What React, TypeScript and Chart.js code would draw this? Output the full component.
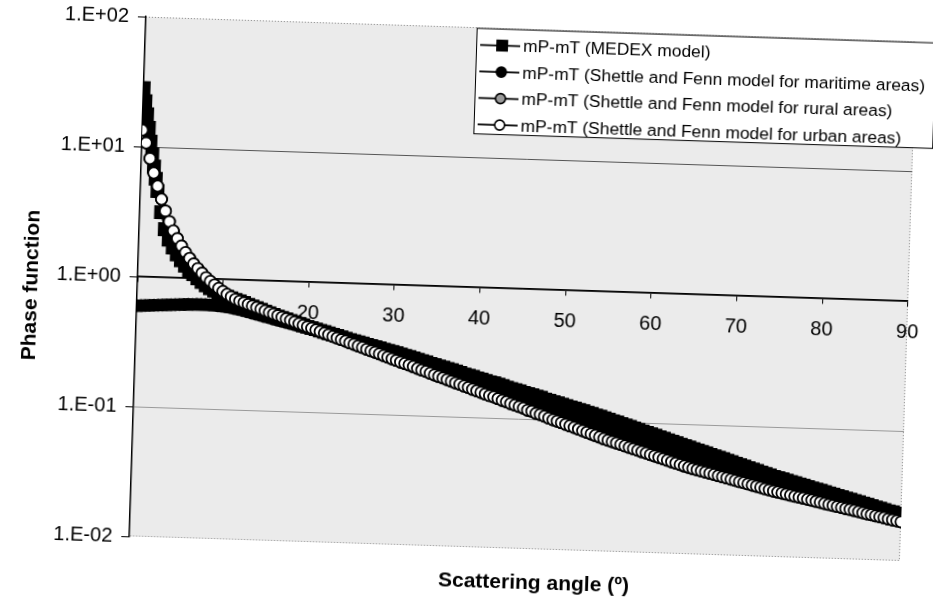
import React, { useEffect, useRef } from "react";
import { Chart, registerables } from "chart.js";

Chart.register(...registerables);

// Scattering angle (degrees)
const ANGLES = [
  0, 0.5, 1, 1.5, 2, 2.5, 3, 3.5, 4, 4.5,
  5, 5.5, 6, 6.5, 7, 7.5, 8, 8.5, 9, 9.5,
  10, 10.5, 11, 11.5, 12, 12.5, 13, 13.5, 14, 14.5,
  15, 15.5, 16, 16.5, 17, 17.5, 18, 18.5, 19, 19.5,
  20, 20.5, 21, 21.5, 22, 22.5, 23, 23.5, 24, 24.5,
  25, 25.5, 26, 26.5, 27, 27.5, 28, 28.5, 29, 29.5,
  30, 30.5, 31, 31.5, 32, 32.5, 33, 33.5, 34, 34.5,
  35, 35.5, 36, 36.5, 37, 37.5, 38, 38.5, 39, 39.5,
  40, 40.5, 41, 41.5, 42, 42.5, 43, 43.5, 44, 44.5,
  45, 45.5, 46, 46.5, 47, 47.5, 48, 48.5, 49, 49.5,
  50, 50.5, 51, 51.5, 52, 52.5, 53, 53.5, 54, 54.5,
  55, 55.5, 56, 56.5, 57, 57.5, 58, 58.5, 59, 59.5,
  60, 60.5, 61, 61.5, 62, 62.5, 63, 63.5, 64, 64.5,
  65, 65.5, 66, 66.5, 67, 67.5, 68, 68.5, 69, 69.5,
  70, 70.5, 71, 71.5, 72, 72.5, 73, 73.5, 74, 74.5,
  75, 75.5, 76, 76.5, 77, 77.5, 78, 78.5, 79, 79.5,
  80, 80.5, 81, 81.5, 82, 82.5, 83, 83.5, 84, 84.5,
  85, 85.5, 86, 86.5, 87, 87.5, 88, 88.5, 89, 89.5,
  90,
];

// mP-mT (MEDEX model)
const MEDEX = [
  28.2, 17.8, 11.0, 7.08, 4.57, 3.16, 2.34, 1.95, 1.70, 1.51,
  1.36, 1.24, 1.15, 1.07, 1.00, 0.940, 0.887, 0.845, 0.811, 0.782,
  0.759, 0.738, 0.719, 0.701, 0.684, 0.665, 0.647, 0.630, 0.612, 0.596,
  0.579, 0.564, 0.548, 0.535, 0.522, 0.510, 0.498, 0.486, 0.474, 0.463,
  0.452, 0.443, 0.434, 0.425, 0.416, 0.407, 0.399, 0.391, 0.383, 0.375,
  0.367, 0.360, 0.354, 0.348, 0.340, 0.334, 0.328, 0.322, 0.316, 0.310,
  0.305, 0.299, 0.292, 0.286, 0.281, 0.275, 0.269, 0.263, 0.258, 0.252,
  0.247, 0.242, 0.237, 0.232, 0.228, 0.223, 0.218, 0.213, 0.209, 0.205,
  0.200, 0.196, 0.192, 0.188, 0.185, 0.181, 0.177, 0.173, 0.169, 0.166,
  0.163, 0.159, 0.156, 0.153, 0.150, 0.147, 0.143, 0.140, 0.137, 0.135,
  0.132, 0.129, 0.126, 0.124, 0.121, 0.119, 0.116, 0.114, 0.111, 0.109,
  0.106, 0.104, 0.101, 0.0991, 0.0968, 0.0944, 0.0923, 0.0902, 0.0881, 0.0859,
  0.0839, 0.0820, 0.0802, 0.0782, 0.0764, 0.0746, 0.0729, 0.0711, 0.0695, 0.0679,
  0.0664, 0.0647, 0.0632, 0.0618, 0.0604, 0.0589, 0.0575, 0.0562, 0.0550, 0.0536,
  0.0524, 0.0512, 0.0500, 0.0488, 0.0476, 0.0466, 0.0455, 0.0444, 0.0434, 0.0424,
  0.0414, 0.0406, 0.0398, 0.0390, 0.0382, 0.0374, 0.0367, 0.0360, 0.0352, 0.0345,
  0.0339, 0.0332, 0.0325, 0.0318, 0.0313, 0.0306, 0.0300, 0.0294, 0.0288, 0.0282,
  0.0277, 0.0271, 0.0266, 0.0261, 0.0255, 0.0250, 0.0245, 0.0240, 0.0236, 0.0231,
  0.0226,
];

// MEDEX has a finer sampling in the forward peak (solid column of squares)
const MEDEX_EXTRA_ANGLES = [0.25, 0.75, 1.25, 1.75];
const MEDEX_EXTRA = [22.4, 14.0, 8.8, 5.7];

// mP-mT (Shettle and Fenn model for maritime areas)
const MARITIME = [
  0.596, 0.598, 0.601, 0.604, 0.607, 0.610, 0.612, 0.615, 0.618, 0.621,
  0.624, 0.625, 0.627, 0.628, 0.630, 0.630, 0.630, 0.628, 0.627, 0.624,
  0.619, 0.614, 0.607, 0.598, 0.590, 0.579, 0.569, 0.558, 0.548, 0.538,
  0.528, 0.519, 0.509, 0.500, 0.491, 0.482, 0.473, 0.465, 0.456, 0.448,
  0.440, 0.432, 0.424, 0.416, 0.408, 0.401, 0.394, 0.386, 0.379, 0.372,
  0.366, 0.359, 0.352, 0.346, 0.340, 0.333, 0.327, 0.321, 0.316, 0.310,
  0.304, 0.296, 0.290, 0.282, 0.276, 0.269, 0.263, 0.256, 0.251, 0.244,
  0.239, 0.233, 0.228, 0.222, 0.217, 0.211, 0.207, 0.201, 0.197, 0.192,
  0.187, 0.183, 0.179, 0.174, 0.170, 0.166, 0.162, 0.158, 0.155, 0.151,
  0.147, 0.144, 0.140, 0.137, 0.134, 0.130, 0.127, 0.124, 0.121, 0.118,
  0.116, 0.113, 0.110, 0.107, 0.105, 0.102, 0.100, 0.0975, 0.0953, 0.0931,
  0.0910, 0.0889, 0.0869, 0.0849, 0.0830, 0.0811, 0.0793, 0.0774, 0.0757, 0.0740,
  0.0723, 0.0706, 0.0690, 0.0675, 0.0659, 0.0644, 0.0630, 0.0615, 0.0601, 0.0587,
  0.0574, 0.0561, 0.0548, 0.0536, 0.0524, 0.0512, 0.0500, 0.0489, 0.0478, 0.0467,
  0.0456, 0.0446, 0.0436, 0.0426, 0.0416, 0.0406, 0.0397, 0.0388, 0.0379, 0.0371,
  0.0364, 0.0357, 0.0351, 0.0344, 0.0338, 0.0332, 0.0326, 0.0320, 0.0314, 0.0308,
  0.0303, 0.0297, 0.0292, 0.0286, 0.0281, 0.0276, 0.0271, 0.0266, 0.0261, 0.0256,
  0.0252, 0.0247, 0.0243, 0.0238, 0.0234, 0.0230, 0.0225, 0.0221, 0.0217, 0.0213,
  0.0209,
];

// mP-mT (Shettle and Fenn model for rural areas) - hidden under the urban series
const RURAL = [
  13.4, 10.7, 8.13, 6.31, 5.01, 3.98, 3.24, 2.69, 2.29, 2.00,
  1.76, 1.57, 1.42, 1.29, 1.19, 1.10, 1.02, 0.957, 0.900, 0.849,
  0.805, 0.767, 0.735, 0.706, 0.684, 0.667, 0.649, 0.632, 0.617, 0.601,
  0.585, 0.570, 0.556, 0.542, 0.527, 0.514, 0.501, 0.489, 0.475, 0.463,
  0.452, 0.441, 0.429, 0.418, 0.407, 0.397, 0.386, 0.377, 0.367, 0.358,
  0.348, 0.340, 0.331, 0.323, 0.314, 0.306, 0.299, 0.291, 0.283, 0.276,
  0.269, 0.262, 0.255, 0.249, 0.243, 0.237, 0.230, 0.224, 0.219, 0.213,
  0.207, 0.202, 0.197, 0.192, 0.187, 0.182, 0.178, 0.173, 0.169, 0.164,
  0.160, 0.156, 0.152, 0.148, 0.145, 0.141, 0.137, 0.134, 0.130, 0.127,
  0.124, 0.121, 0.117, 0.115, 0.111, 0.109, 0.106, 0.103, 0.100, 0.0979,
  0.0955, 0.0930, 0.0906, 0.0883, 0.0861, 0.0838, 0.0817, 0.0796, 0.0776, 0.0756,
  0.0736, 0.0719, 0.0703, 0.0687, 0.0671, 0.0656, 0.0641, 0.0627, 0.0612, 0.0598,
  0.0585, 0.0571, 0.0558, 0.0546, 0.0533, 0.0521, 0.0509, 0.0498, 0.0486, 0.0475,
  0.0465, 0.0456, 0.0448, 0.0440, 0.0432, 0.0424, 0.0416, 0.0408, 0.0401, 0.0394,
  0.0386, 0.0379, 0.0372, 0.0366, 0.0359, 0.0352, 0.0346, 0.0340, 0.0333, 0.0327,
  0.0321, 0.0316, 0.0311, 0.0306, 0.0301, 0.0296, 0.0292, 0.0288, 0.0283, 0.0279,
  0.0274, 0.0270, 0.0265, 0.0261, 0.0257, 0.0253, 0.0249, 0.0245, 0.0242, 0.0238,
  0.0234, 0.0230, 0.0226, 0.0223, 0.0219, 0.0216, 0.0213, 0.0209, 0.0206, 0.0203,
  0.0200,
];

// mP-mT (Shettle and Fenn model for urban areas)
const URBAN = [
  13.4, 10.7, 8.13, 6.31, 5.01, 3.98, 3.24, 2.69, 2.29, 2.00,
  1.76, 1.57, 1.42, 1.29, 1.19, 1.10, 1.02, 0.957, 0.900, 0.849,
  0.805, 0.767, 0.735, 0.706, 0.684, 0.667, 0.649, 0.632, 0.617, 0.601,
  0.585, 0.570, 0.556, 0.542, 0.527, 0.514, 0.501, 0.489, 0.475, 0.463,
  0.452, 0.441, 0.429, 0.418, 0.407, 0.397, 0.386, 0.377, 0.367, 0.358,
  0.348, 0.340, 0.331, 0.323, 0.314, 0.306, 0.299, 0.291, 0.283, 0.276,
  0.269, 0.262, 0.255, 0.249, 0.243, 0.237, 0.230, 0.224, 0.219, 0.213,
  0.207, 0.202, 0.197, 0.192, 0.187, 0.182, 0.178, 0.173, 0.169, 0.164,
  0.160, 0.156, 0.152, 0.148, 0.145, 0.141, 0.137, 0.134, 0.130, 0.127,
  0.124, 0.121, 0.117, 0.115, 0.111, 0.109, 0.106, 0.103, 0.100, 0.0979,
  0.0955, 0.0930, 0.0906, 0.0883, 0.0861, 0.0838, 0.0817, 0.0796, 0.0776, 0.0756,
  0.0736, 0.0719, 0.0703, 0.0687, 0.0671, 0.0656, 0.0641, 0.0627, 0.0612, 0.0598,
  0.0585, 0.0571, 0.0558, 0.0546, 0.0533, 0.0521, 0.0509, 0.0498, 0.0486, 0.0475,
  0.0465, 0.0456, 0.0448, 0.0440, 0.0432, 0.0424, 0.0416, 0.0408, 0.0401, 0.0394,
  0.0386, 0.0379, 0.0372, 0.0366, 0.0359, 0.0352, 0.0346, 0.0340, 0.0333, 0.0327,
  0.0321, 0.0316, 0.0311, 0.0306, 0.0301, 0.0296, 0.0292, 0.0288, 0.0283, 0.0279,
  0.0274, 0.0270, 0.0265, 0.0261, 0.0257, 0.0253, 0.0249, 0.0245, 0.0242, 0.0238,
  0.0234, 0.0230, 0.0226, 0.0223, 0.0219, 0.0216, 0.0213, 0.0209, 0.0206, 0.0203,
  0.0200,
];

const SERIES_LABELS = [
  "mP-mT (MEDEX model)",
  "mP-mT (Shettle and Fenn model for maritime areas)",
  "mP-mT (Shettle and Fenn model for rural areas)",
  "mP-mT (Shettle and Fenn model for urban areas)",
];

const Y_TICKS = [100, 10, 1, 0.1, 0.01];
const Y_TICK_LABELS = ["1.E+02", "1.E+01", "1.E+00", "1.E-01", "1.E-02"];
const X_TICKS = [0, 10, 20, 30, 40, 50, 60, 70, 80, 90];
// 0 and 10 are hidden behind the curves in the original
const X_TICK_LABELS = ["", "", "20", "30", "40", "50", "60", "70", "80", "90"];
const X_TITLE = "Scattering angle (º)";
const Y_TITLE = "Phase function";

const FONT = "'Liberation Sans', Arial, Helvetica, sans-serif";
const PLOT_BG = "#ebebeb";

const STYLES = [
  { pointStyle: "rect", radius: 8.5, fill: "#000000" },
  { pointStyle: "circle", radius: 5.6, fill: "#000000" },
  { pointStyle: "circle", radius: 5.6, fill: "#9a9a9a" },
  { pointStyle: "circle", radius: 5.6, fill: "#ffffff" },
];

const SERIES = [MEDEX, MARITIME, RURAL, URBAN];

function buildPoints(i: number) {
  const pts = ANGLES.map((x, k) => ({ x, y: SERIES[i][k] }));
  if (i === 0) {
    MEDEX_EXTRA_ANGLES.forEach((x, k) => pts.push({ x, y: MEDEX_EXTRA[k] }));
    pts.sort((p, q) => p.x - q.x);
  }
  return pts;
}

function drawMarker(ctx: CanvasRenderingContext2D, style: any, x: number, y: number) {
  ctx.save();
  ctx.lineWidth = 1.6;
  ctx.strokeStyle = "#000";
  ctx.fillStyle = style.fill;
  ctx.setLineDash([]);
  if (style.pointStyle === "rect") {
    const s = style.radius * Math.SQRT1_2 * 0.85;
    ctx.fillRect(x - s, y - s, 2 * s, 2 * s);
    ctx.strokeRect(x - s, y - s, 2 * s, 2 * s);
  } else {
    ctx.beginPath();
    ctx.arc(x, y, style.radius - 0.6, 0, Math.PI * 2);
    ctx.fill();
    ctx.stroke();
  }
  ctx.restore();
}

const decorPlugin = {
  id: "decor",
  beforeDraw(chart: any) {
    const { ctx, chartArea: a } = chart;
    ctx.save();
    ctx.fillStyle = PLOT_BG;
    ctx.fillRect(a.left, a.top, a.right - a.left, a.bottom - a.top);
    ctx.strokeStyle = "#8a8a8a";
    ctx.lineWidth = 1;
    ctx.setLineDash([1, 2]);
    ctx.beginPath();
    ctx.moveTo(a.left, a.top + 0.5);
    ctx.lineTo(a.right - 0.5, a.top + 0.5);
    ctx.lineTo(a.right - 0.5, a.bottom - 0.5);
    ctx.lineTo(a.left, a.bottom - 0.5);
    ctx.stroke();
    ctx.restore();
  },
  afterDraw(chart: any) {
    const { ctx, chartArea: a } = chart;
    ctx.save();
    // axis titles
    ctx.fillStyle = "#000";
    ctx.font = `bold 21px ${FONT}`;
    ctx.textAlign = "center";
    ctx.textBaseline = "alphabetic";
    ctx.fillText(X_TITLE, (a.left + a.right) / 2 + 20, 587);
    ctx.save();
    ctx.translate(31, 299);
    ctx.rotate(-Math.PI / 2);
    ctx.textBaseline = "middle";
    ctx.fillText(Y_TITLE, 0, 0);
    ctx.restore();

    // legend
    const lx = a.left + 331;
    const ly = a.top + 0.6;
    const lw = 459;
    const lh = 105.5;
    ctx.fillStyle = "#fff";
    ctx.fillRect(lx, ly, lw, lh);
    ctx.strokeStyle = "#000";
    ctx.lineWidth = 1;
    ctx.setLineDash([]);
    ctx.strokeRect(lx + 0.5, ly + 0.5, lw, lh);
    const rowY = [17, 43.5, 70, 96.5];
    ctx.font = `17.4px ${FONT}`;
    ctx.textAlign = "left";
    ctx.textBaseline = "middle";
    SERIES_LABELS.forEach((label, i) => {
      const y = ly + rowY[i];
      ctx.strokeStyle = "#000";
      ctx.lineWidth = 1.6;
      ctx.beginPath();
      ctx.moveTo(lx + 4, y);
      ctx.lineTo(lx + 44, y);
      ctx.stroke();
      drawMarker(ctx, STYLES[i], lx + 26, y);
      ctx.fillStyle = "#000";
      ctx.fillText(label, lx + 47, y + 1);
    });
    ctx.restore();
  },
};

export default function App() {
  const canvasRef = useRef<HTMLCanvasElement | null>(null);

  useEffect(() => {
    const canvas = canvasRef.current;
    if (!canvas) return;
    // draw order: urban on top, then rural, maritime, MEDEX at the bottom
    const order = [3, 2, 1, 0];
    const datasets = order.map((i) => ({
      label: SERIES_LABELS[i],
      data: buildPoints(i),
      borderColor: "#000",
      borderWidth: 1.6,
      backgroundColor: STYLES[i].fill,
      pointStyle: STYLES[i].pointStyle,
      pointRadius: STYLES[i].radius,
      pointBackgroundColor: STYLES[i].fill,
      pointBorderColor: "#000",
      pointBorderWidth: 1.8,
      tension: 0,
      fill: false,
    }));

    const chart = new Chart(canvas, {
      type: "line",
      data: { datasets },
      options: {
        responsive: false,
        animation: false,
        devicePixelRatio: 1,
        events: [],
        layout: { padding: { left: 0, top: 27, right: 11, bottom: 55 } },
        plugins: {
          legend: { display: false },
          tooltip: { enabled: false },
        },
        scales: {
          x: {
            type: "linear",
            min: 0,
            max: 90,
            position: { y: 1 } as any,
            afterBuildTicks: (s: any) => {
              s.ticks = X_TICKS.map((v) => ({ value: v }));
            },
            ticks: {
              autoSkip: false,
              maxRotation: 0,
              padding: 14,
              color: "#000",
              font: { size: 20, family: FONT },
              callback: (_v: any, idx: number) => X_TICK_LABELS[idx] ?? "",
            },
            grid: {
              drawOnChartArea: false,
              drawTicks: true,
              tickLength: 5,
              tickColor: "#000",
              tickWidth: 1,
            },
            border: { display: true, color: "#000", width: 1.5 },
          },
          y: {
            type: "logarithmic",
            min: 0.01,
            max: 100,
            position: "left",
            afterBuildTicks: (s: any) => {
              s.ticks = Y_TICKS.map((v) => ({ value: v }));
            },
            afterFit: (s: any) => {
              s.width = 137;
            },
            ticks: {
              autoSkip: false,
              padding: 9,
              color: "#000",
              font: { size: 20, family: FONT },
              callback: (_v: any, idx: number) => Y_TICK_LABELS[idx] ?? "",
            },
            grid: {
              color: (c: any) => {
                const v = c.tick && c.tick.value;
                if (v === 10 || v === 1) return "#555";
                if (v === 0.1) return "#9a9a9a";
                return "rgba(0,0,0,0)";
              },
              lineWidth: 1,
              drawTicks: true,
              tickLength: 8,
              tickColor: "#000",
              tickWidth: 1,
            },
            border: { display: true, color: "#000", width: 1.5 },
          },
        },
      },
      plugins: [decorPlugin],
    });

    return () => chart.destroy();
  }, []);

  return (
    <div
      style={{
        position: "fixed",
        left: 0,
        top: 0,
        width: 933,
        height: 602,
        overflow: "hidden",
        background: "#fff",
      }}
    >
      <canvas
        ref={canvasRef}
        width={933}
        height={602}
        style={{
          display: "block",
          width: 933,
          height: 602,
          transform: "rotate(1.83deg)",
          transformOrigin: "50% 50%",
        }}
      />
    </div>
  );
}
